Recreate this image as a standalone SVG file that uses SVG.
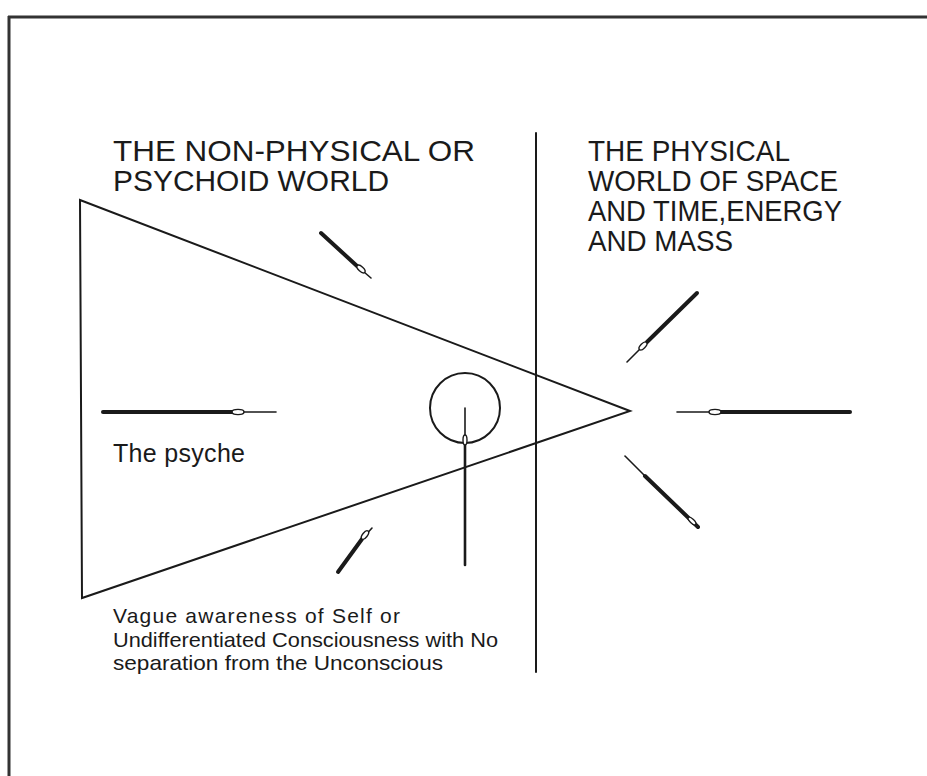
<svg xmlns="http://www.w3.org/2000/svg" width="927" height="776" viewBox="0 0 927 776">
<style>
.frame{stroke:#333;stroke-width:3;fill:none}
.ln{stroke:#1a1a1a;stroke-width:2;fill:none;stroke-linecap:round}
.thick{stroke:#1a1a1a;stroke-width:4;stroke-linecap:round}
.thin{stroke:#1a1a1a;stroke-width:1.6;stroke-linecap:round}
.eye{fill:#fff;stroke:#1a1a1a;stroke-width:1.4}
.big{font-family:"Liberation Sans",Arial,sans-serif;font-size:30px;fill:#1a1a1a}
.mid{font-family:"Liberation Sans",Arial,sans-serif;font-size:25px;fill:#1a1a1a}
.small{font-family:"Liberation Sans",Arial,sans-serif;font-size:21px;fill:#1a1a1a}
</style>
<rect width="927" height="776" fill="#fff"/>
<g id="frame">
<line class="frame" x1="8" y1="17" x2="927" y2="17"/>
<line class="frame" x1="9" y1="16" x2="9" y2="776"/>
</g>
<g id="divider"><line class="ln" x1="536" y1="133" x2="536" y2="672"/></g>
<g id="title-left">
<text class="big" x="113" y="161" textLength="362" lengthAdjust="spacingAndGlyphs">THE NON-PHYSICAL OR</text>
<text class="big" x="113" y="191" textLength="276" lengthAdjust="spacingAndGlyphs">PSYCHOID WORLD</text>
</g>
<g id="title-right">
<text class="big" x="588" y="161" textLength="202" lengthAdjust="spacingAndGlyphs">THE PHYSICAL</text>
<text class="big" x="588" y="191" textLength="250" lengthAdjust="spacingAndGlyphs">WORLD OF SPACE</text>
<text class="big" x="588" y="221" textLength="254" lengthAdjust="spacingAndGlyphs">AND TIME,ENERGY</text>
<text class="big" x="588" y="251" textLength="145" lengthAdjust="spacingAndGlyphs">AND MASS</text>
</g>
<g id="psyche">
<polygon class="ln" points="80,200 630,411 82,598"/>
<text class="mid" x="113" y="462" textLength="132" lengthAdjust="spacing">The psyche</text>
</g>
<g id="self">
<circle class="ln" cx="465" cy="408" r="35"/>
</g>
<g id="caption">
<text class="small" x="113" y="623" textLength="287" lengthAdjust="spacing">Vague awareness of Self or</text>
<text class="small" x="113" y="647" textLength="385" lengthAdjust="spacingAndGlyphs">Undifferentiated Consciousness with No</text>
<text class="small" x="113" y="670" textLength="330" lengthAdjust="spacingAndGlyphs">separation from the Unconscious</text>
</g>
<g id="connectors">
<g id="arrow-left">
<line class="thick" x1="103" y1="412" x2="233" y2="412"/>
<line class="thin" x1="233" y1="412" x2="276" y2="412"/>
<ellipse class="eye" cx="238" cy="412" rx="6" ry="2.6"/>
</g>
<g id="arrow-right">
<line class="thick" x1="850" y1="412" x2="720" y2="412"/>
<line class="thin" x1="720" y1="412" x2="677" y2="412"/>
<ellipse class="eye" cx="715" cy="412" rx="6" ry="2.6"/>
</g>
<g id="arrow-upper-left">
<line class="thick" x1="321" y1="233" x2="357" y2="266"/>
<line class="thin" x1="357" y1="266" x2="371" y2="278"/>
<ellipse class="eye" cx="361" cy="269" rx="5" ry="2.4" transform="rotate(42 361 269)"/>
</g>
<g id="arrow-lower-left">
<line class="thick" x1="338" y1="572" x2="362" y2="539"/>
<line class="thin" x1="362" y1="539" x2="372" y2="528"/>
<ellipse class="eye" cx="365" cy="535" rx="5" ry="2.4" transform="rotate(-52 365 535)"/>
</g>
<g id="arrow-vertical">
<line class="thick" x1="465" y1="565" x2="465" y2="444" style="stroke-width:2.6"/>
<line class="thin" x1="465" y1="444" x2="465" y2="408"/>
<ellipse class="eye" cx="465" cy="440" rx="2" ry="5"/>
</g>
<g id="arrow-upper-right">
<line class="thick" x1="697" y1="293" x2="647" y2="342"/>
<line class="thin" x1="647" y1="342" x2="627" y2="362"/>
<ellipse class="eye" cx="643" cy="346" rx="5" ry="2.4" transform="rotate(-45 643 346)"/>
</g>
<g id="arrow-lower-right">
<line class="thin" x1="625" y1="456" x2="645" y2="476"/>
<line class="thick" x1="645" y1="476" x2="698" y2="527"/>
<ellipse class="eye" cx="692" cy="521" rx="5" ry="2" transform="rotate(44 692 521)"/>
</g>
</g>
</svg>
